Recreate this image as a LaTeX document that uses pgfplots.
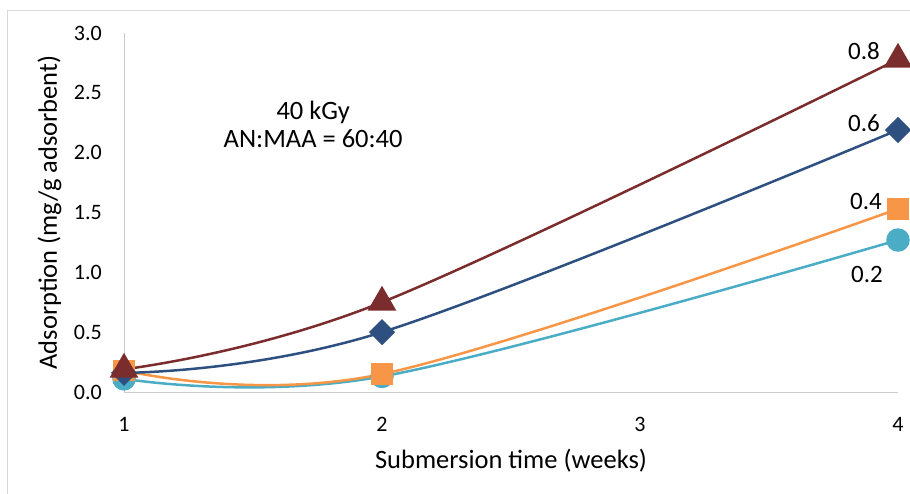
\documentclass[border=0pt]{standalone}
\usepackage{fontspec}
\setmainfont{Carlito}
\usepackage{pgfplots}
\pgfplotsset{compat=1.18}
\definecolor{s08}{RGB}{123,44,44}
\definecolor{s06}{RGB}{46,80,128}
\definecolor{s04}{RGB}{247,150,70}
\definecolor{s02}{RGB}{75,172,198}
\definecolor{axisgray}{RGB}{204,204,204}
\definecolor{framegray}{RGB}{217,217,217}
\begin{document}
\begin{tikzpicture}
\useasboundingbox (0,0) rectangle (910pt,493pt);
% chart area frame
\draw[framegray, line width=1pt] (7.5pt,-20pt) -- (7.5pt,482.5pt) -- (930pt,482.5pt);
\begin{axis}[
  at={(124pt,101pt)}, anchor=south west,
  scale only axis, width=774pt, height=359pt,
  xmin=1, xmax=4, ymin=0, ymax=3,
  xtick={1,2,3,4}, ytick={0,0.5,1,1.5,2,2.5,3},
  axis x line=bottom, axis y line=left,
  axis line style={draw=axisgray, line width=1pt, -},
  major tick length=0pt,
  clip=false,
  /pgf/number format/assume math mode=true,
  tick label style={font=\fontsize{22}{26}\selectfont, inner sep=0pt},
  yticklabel style={/pgf/number format/fixed, /pgf/number format/fixed zerofill,
    /pgf/number format/precision=1, anchor=east, xshift=-22pt},
  xticklabel style={anchor=center, yshift=-32pt},
  xlabel={Submersion time (weeks)},
  ylabel={Adsorption (mg/g adsorbent)},
  label style={font=\fontsize{26.5}{30}\selectfont},
  xlabel style={at={(axis description cs:0.5,-0.2117)}, anchor=base},
  ylabel style={at={(axis description cs:-0.0866,0.5)}, anchor=base},
  every axis plot/.append style={line width=2.5pt, smooth, tension=0.6},
]
% 0.2
\addplot[s02, mark=*, mark size=10.5pt, mark options={fill=s02, draw=none}]
  coordinates {(1,0.11) (2,0.13) (4,1.27)};
% 0.4
\addplot[s04, mark=square*, mark size=9.5pt, mark options={fill=s04, draw=none}]
  coordinates {(1,0.18) (2,0.15) (4,1.53)};
% 0.6
\addplot[s06, mark=square*, mark size=8pt, mark options={fill=s06, draw=none, rotate=45}]
  coordinates {(1,0.16) (2,0.50) (4,2.19)};
% 0.8
\addplot[s08, mark=triangle*, mark size=14pt, mark options={fill=s08, draw=none}]
  coordinates {(1,0.19) (2,0.75) (4,2.78)};

\node[anchor=base, font=\fontsize{26.5}{30}\selectfont] at (axis cs:1.733,2.281) {40 kGy};
\node[anchor=base, font=\fontsize{26.5}{30}\selectfont] at (axis cs:1.733,2.047) {AN:MAA = 60:40};

\node[font=\fontsize{25}{30}\selectfont] at (axis cs:3.868,2.850) {0.8};
\node[font=\fontsize{25}{30}\selectfont] at (axis cs:3.868,2.248) {0.6};
\node[font=\fontsize{25}{30}\selectfont] at (axis cs:3.876,1.596) {0.4};
\node[font=\fontsize{25}{30}\selectfont] at (axis cs:3.880,0.978) {0.2};
\end{axis}
\end{tikzpicture}
\end{document}
